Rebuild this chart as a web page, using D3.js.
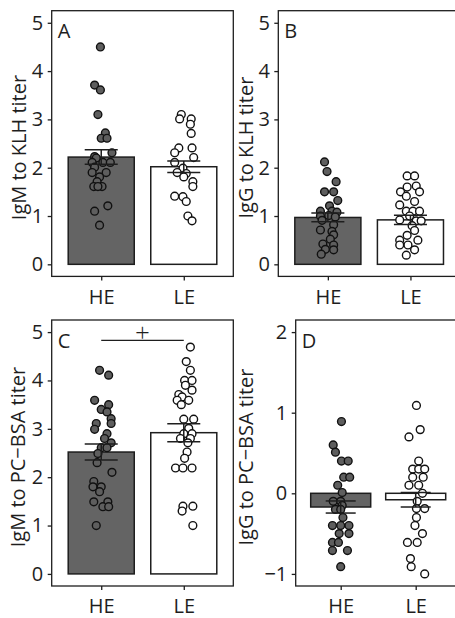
<!DOCTYPE html>
<html>
<head>
<meta charset="utf-8">
<script src="https://cdn.jsdelivr.net/npm/d3@7"></script>
<style>
  body { margin: 0; background: #fff; }
  svg { display: block; font-family: "Open Sans", sans-serif; }
</style>
</head>
<body>
<div id="chart"></div>
<script>
var width = 455;
var height = 618;

var groups = ["HE", "LE"];

// panel A: IgM to KLH
var igmKlhHE = [4.50, 3.71, 3.61, 3.10, 2.72, 2.61, 2.61, 2.31, 2.23, 2.20, 2.11, 2.11, 2.11, 2.01, 1.90, 1.90, 1.81, 1.71, 1.61, 1.61, 1.61, 1.21, 1.10, 0.81];
var igmKlhHEJit = [-0.01, -0.08, -0.01, -0.04, 0.05, 0, 0.07, 0.13, -0.08, -0.06, -0.11, 0.02, 0.11, -0.08, -0.11, 0.06, -0.02, -0.05, -0.09, 0.01, -0.04, 0.08, -0.08, -0.02];
var igmKlhLE = [3.10, 3.01, 3.01, 2.90, 2.71, 2.41, 2.41, 2.31, 2.21, 2.11, 1.99, 1.90, 1.88, 1.81, 1.71, 1.61, 1.41, 1.40, 1.30, 1.00, 0.90];
var igmKlhLEJit = [-0.03, -0.05, 0.09, 0.08, 0.09, -0.06, 0.10, -0.11, 0.12, -0.11, -0.01, -0.08, 0.03, 0, 0.11, 0.11, -0.11, -0.01, 0.03, 0.05, 0.10];
var igmKlhMean = [2.22, 2.02];
var igmKlhSE = [0.15, 0.12];

// panel B: IgG to KLH
var iggKlhHE = [2.12, 1.92, 1.71, 1.50, 1.50, 1.32, 1.21, 1.10, 1.10, 1.08, 1.00, 1.01, 0.98, 0.91, 0.82, 0.71, 0.68, 0.61, 0.52, 0.42, 0.40, 0.31, 0.30, 0.21];
var iggKlhHEJit = [-0.04, -0.01, 0.10, -0.04, 0.07, 0.12, 0.02, -0.09, 0.05, 0.11, -0.09, 0.01, 0.09, -0.07, 0.07, -0.09, 0.05, 0.07, 0.03, -0.06, 0.07, -0.03, 0.07, -0.08];
var iggKlhLE = [1.83, 1.83, 1.60, 1.62, 1.50, 1.50, 1.41, 1.30, 1.23, 1.10, 1.10, 1.10, 1.00, 0.92, 0.90, 0.90, 0.80, 0.70, 0.60, 0.50, 0.50, 0.40, 0.40, 0.30, 0.19];
var iggKlhLEJit = [-0.04, 0.05, -0.04, 0.07, -0.12, 0.11, -0.05, 0.05, -0.13, -0.05, 0.03, 0.11, -0.01, -0.13, 0.07, 0.13, 0.02, 0.05, -0.04, -0.13, 0.09, -0.13, -0.03, 0.05, -0.05];
var iggKlhMean = [0.97, 0.92];
var iggKlhSE = [0.09, 0.095];

// panel C: IgM to PC-BSA
var igmPcHE = [4.21, 4.11, 3.59, 3.50, 3.40, 3.35, 3.21, 3.11, 3.11, 2.99, 2.90, 2.80, 2.71, 2.61, 2.61, 2.49, 2.30, 2.10, 1.91, 1.80, 1.80, 1.70, 1.49, 1.49, 1.39, 1.39, 1.00];
var igmPcHEJit = [-0.02, 0.09, -0.08, 0.09, 0, 0.07, 0.12, 0.12, -0.06, -0.08, 0.07, 0.04, 0.12, 0, 0.07, -0.04, -0.05, 0.13, -0.09, 0, -0.10, -0.02, -0.09, 0.08, 0.02, 0.09, -0.06];
var igmPcLE = [4.69, 4.39, 4.21, 4.00, 4.00, 3.90, 3.80, 3.71, 3.66, 3.59, 3.59, 3.50, 3.20, 3.20, 3.01, 2.90, 2.90, 2.80, 2.80, 2.71, 2.52, 2.39, 2.19, 2.19, 2.19, 1.40, 1.40, 1.30, 1.00];
var igmPcLEJit = [0.08, 0.03, 0.08, 0.01, 0.10, 0.02, 0.10, -0.06, -0.02, -0.08, 0.06, -0.03, 0, 0.12, 0.06, 0, 0.10, -0.04, 0.08, 0.05, 0.04, 0.01, -0.10, -0.01, 0.10, -0.01, 0.11, -0.02, 0.11];
var igmPcMean = [2.52, 2.92];
var igmPcSE = [0.165, 0.185];

// panel D: IgG to PC-BSA
var iggPcHE = [0.89, 0.60, 0.51, 0.40, 0.40, 0.20, 0.20, 0.10, 0.01, -0.10, -0.10, -0.15, -0.20, -0.20, -0.30, -0.40, -0.40, -0.40, -0.50, -0.50, -0.61, -0.61, -0.71, -0.71, -0.91];
var iggPcHEJit = [0.01, -0.10, -0.07, 0.01, 0.10, 0.04, 0.12, -0.04, 0.02, -0.10, 0, 0.02, -0.07, 0, 0.03, -0.11, 0, 0.11, -0.02, 0.11, -0.11, -0.03, -0.11, 0.09, 0];
var iggPcLE = [1.09, 0.79, 0.70, 0.40, 0.30, 0.30, 0.30, 0.20, 0.20, 0.10, 0.10, 0.00, -0.10, -0.19, -0.19, -0.30, -0.40, -0.50, -0.61, -0.61, -0.81, -0.91, -1.00];
var iggPcLEJit = [0.01, 0.06, -0.09, 0.04, -0.04, 0.04, 0.12, -0.04, 0.10, -0.09, 0.04, 0.09, 0.02, 0.01, 0.12, 0.01, -0.01, 0.09, -0.11, 0.02, -0.07, -0.06, 0.12];
var iggPcMean = [-0.17, -0.08];
var iggPcSE = [0.075, 0.09];

var yTicksA = [0, 1, 2, 3, 4, 5];
var yTicksD = [-1, 0, 1, 2];

var heFill = "#646464";
var ink = "#1e1e1e";
var fontSize = "20px";

var svg = d3.select("#chart").append("svg")
  .attr("width", width)
  .attr("height", height);

function drawPanel(p) {
  var x = d3.scaleLinear().domain([0.4, 2.6]).range([p.left, p.right]);
  var y = d3.scaleLinear().domain(p.ydom).range([p.bottom, p.top]);
  var g = svg.append("g");

  var bars = groups.map(function(name, i) {
    return {name: name, pos: i + 1, mean: p.mean[i], se: p.se[i]};
  });

  g.selectAll(".bar")
    .data(bars)
    .enter()
    .append("rect")
    .attr("class", "bar")
    .attr("x", function(d) { return x(d.pos - 0.4); })
    .attr("width", function(d) { return x(d.pos + 0.4) - x(d.pos - 0.4); })
    .attr("y", function(d) { return y(Math.max(0, d.mean)); })
    .attr("height", function(d) { return Math.abs(y(d.mean) - y(0)); })
    .attr("fill", function(d, i) { return i == 0 ? heFill : "#fff"; })
    .attr("stroke", ink)
    .attr("stroke-width", 1.5);

  var pts = [];
  p.he.forEach(function(v, i) { pts.push({pos: 1 + p.heJit[i], value: v, grp: 0}); });
  p.le.forEach(function(v, i) { pts.push({pos: 2 + p.leJit[i], value: v, grp: 1}); });

  g.selectAll(".pt")
    .data(pts)
    .enter()
    .append("circle")
    .attr("class", "pt")
    .attr("cx", function(d) { return x(d.pos); })
    .attr("cy", function(d) { return y(d.value); })
    .attr("r", 3.9)
    .attr("fill", function(d) { return d.grp == 0 ? "#5e5e5e" : "#fff"; })
    .attr("stroke", "#111")
    .attr("stroke-width", 1.4);

  // error bars
  var eb = g.selectAll(".eb")
    .data(bars)
    .enter()
    .append("g")
    .attr("class", "eb")
    .attr("stroke", ink)
    .attr("stroke-width", 1.5);
  eb.append("line")
    .attr("x1", function(d) { return x(d.pos); })
    .attr("x2", function(d) { return x(d.pos); })
    .attr("y1", function(d) { return y(d.mean + d.se); })
    .attr("y2", function(d) { return y(d.mean - d.se); });
  eb.append("line")
    .attr("x1", function(d) { return x(d.pos - 0.2); })
    .attr("x2", function(d) { return x(d.pos + 0.2); })
    .attr("y1", function(d) { return y(d.mean + d.se); })
    .attr("y2", function(d) { return y(d.mean + d.se); });
  eb.append("line")
    .attr("x1", function(d) { return x(d.pos - 0.2); })
    .attr("x2", function(d) { return x(d.pos + 0.2); })
    .attr("y1", function(d) { return y(d.mean - d.se); })
    .attr("y2", function(d) { return y(d.mean - d.se); });

  // frame
  g.append("rect")
    .attr("x", p.left)
    .attr("y", p.top)
    .attr("width", p.right - p.left)
    .attr("height", p.bottom - p.top)
    .attr("fill", "none")
    .attr("stroke", ink)
    .attr("stroke-width", 1.3);

  var ya = g.append("g")
    .attr("transform", "translate(" + p.left + ",0)")
    .call(d3.axisLeft(y).tickValues(p.ticks).tickFormat(d3.format("d")).tickSize(4).tickPadding(4.4));
  var xa = g.append("g")
    .attr("transform", "translate(0," + p.bottom + ")")
    .call(d3.axisBottom(x).tickValues([1, 2]).tickFormat(function(d) { return groups[d - 1]; })
      .tickSize(4).tickPadding(9));
  [ya, xa].forEach(function(a) {
    a.select(".domain").remove();
    a.selectAll("line").attr("stroke", ink).attr("stroke-width", 1.3);
    a.selectAll("text").attr("fill", ink).style("font-size", fontSize)
      .style("font-family", "'Open Sans', sans-serif");
  });

  g.append("text")
    .attr("transform", "translate(" + p.labelX + "," + ((p.top + p.bottom) / 2 + 4) + ") rotate(-90)")
    .attr("text-anchor", "middle")
    .attr("fill", ink)
    .style("font-size", fontSize)
    .text(p.label);

  g.append("text")
    .attr("x", p.left + 6)
    .attr("y", p.top + 27.6)
    .attr("fill", ink)
    .style("font-size", fontSize)
    .text(p.id);

  return {x: x, y: y, g: g};
}

drawPanel({id: "A", label: "IgM to KLH titer", left: 51.7, right: 233.3, top: 10.7, bottom: 276.4,
  ydom: [-0.25, 5.25], ticks: yTicksA, labelX: 25.5,
  he: igmKlhHE, heJit: igmKlhHEJit, le: igmKlhLE, leJit: igmKlhLEJit, mean: igmKlhMean, se: igmKlhSE});

drawPanel({id: "B", label: "IgG to KLH titer", left: 278.3, right: 460, top: 10.7, bottom: 276.4,
  ydom: [-0.25, 5.25], ticks: yTicksA, labelX: 253.3,
  he: iggKlhHE, heJit: iggKlhHEJit, le: iggKlhLE, leJit: iggKlhLEJit, mean: iggKlhMean, se: iggKlhSE});

var pc = drawPanel({id: "C", label: "IgM to PC\u2212BSA titer", left: 51.7, right: 233.3, top: 320, bottom: 586,
  ydom: [-0.25, 5.25], ticks: yTicksA, labelX: 25,
  he: igmPcHE, heJit: igmPcHEJit, le: igmPcLE, leJit: igmPcLEJit, mean: igmPcMean, se: igmPcSE});

drawPanel({id: "D", label: "IgG to PC\u2212BSA titer", left: 295.7, right: 460.7, top: 320, bottom: 586,
  ydom: [-1.15, 2.15], ticks: yTicksD, labelX: 253.3,
  he: iggPcHE, heJit: iggPcHEJit, le: iggPcLE, leJit: iggPcLEJit, mean: iggPcMean, se: iggPcSE});

// significance bracket in C
pc.g.append("line")
  .attr("x1", pc.x(1)).attr("x2", pc.x(2))
  .attr("y1", pc.y(4.83)).attr("y2", pc.y(4.83))
  .attr("stroke", ink)
  .attr("stroke-width", 1.3);
pc.g.append("text")
  .attr("x", pc.x(1.5))
  .attr("y", pc.y(4.83) + 1.5)
  .attr("text-anchor", "middle")
  .attr("fill", ink)
  .style("font-size", "26px")
  .style("font-weight", 300)
  .text("+");
</script>
</body>
</html>
